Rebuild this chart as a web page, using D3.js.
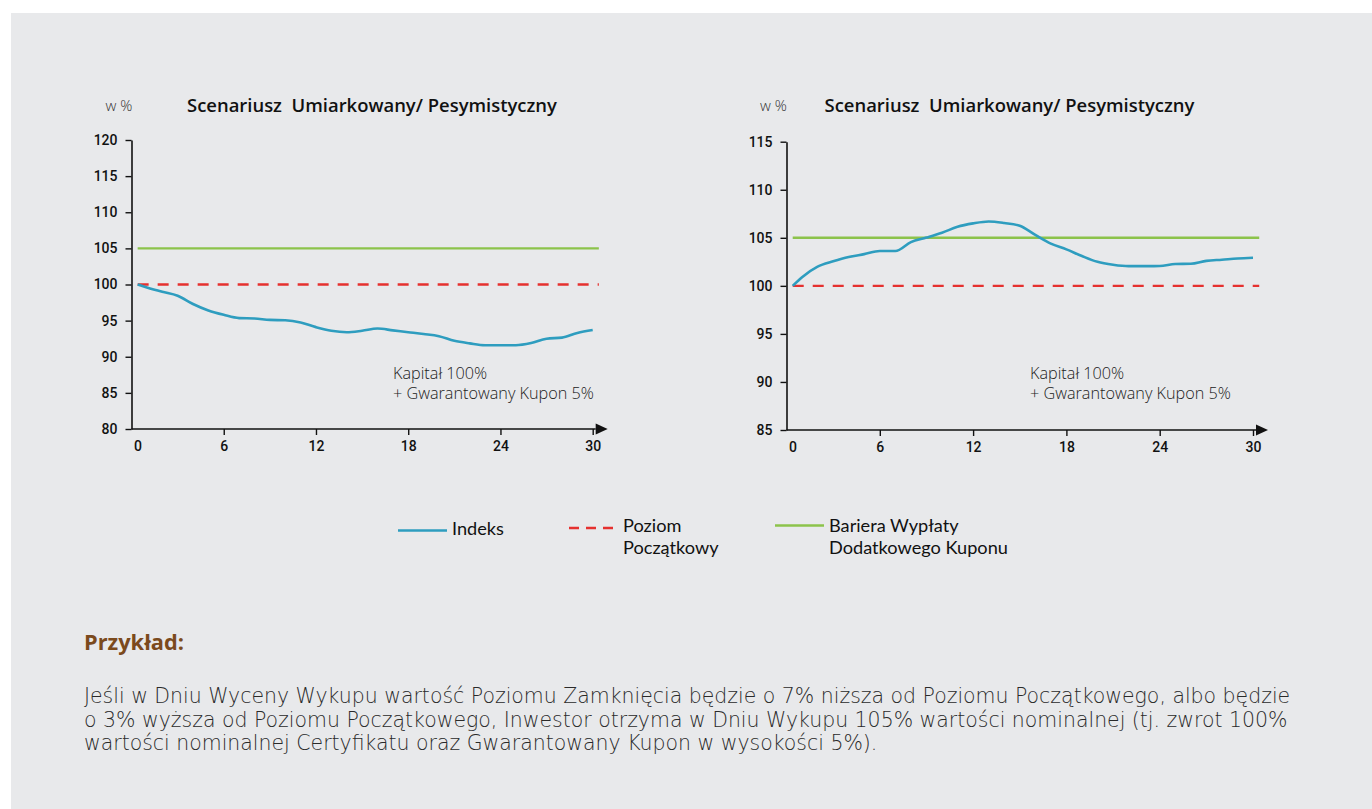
<!DOCTYPE html>
<html>
<head>
<meta charset="utf-8">
<script src="https://cdn.jsdelivr.net/npm/d3@7"></script>
<style>
  body { margin: 0; background: #fff; }
  svg { display: block; font-family: "Open Sans", sans-serif; }
</style>
</head>
<body>
<div id="chart"></div>
<script>
// months on the x axis (first point sits just right of the axis)
const months = [0.4, 1, 2, 3, 4, 5, 6, 7, 8, 9, 10, 11, 12, 13, 14, 15, 16, 17, 18, 19, 20, 21, 22, 23, 24, 25, 26, 27, 28, 29, 30];

// Indeks - lewy wykres (spadek)
const indeksLeft = [100, 99.6, 99.0, 98.45, 97.3, 96.4, 95.8, 95.35, 95.3, 95.1, 95.05, 94.75, 94.1, 93.6, 93.4, 93.6, 93.9, 93.65, 93.4, 93.15, 92.85, 92.2, 91.85, 91.6, 91.6, 91.6, 91.9, 92.5, 92.65, 93.3, 93.7];

// Indeks - prawy wykres (wzrost i powrót)
const indeksRight = [100, 100.9, 102.0, 102.55, 103.0, 103.3, 103.62, 103.62, 104.55, 105.02, 105.53, 106.15, 106.5, 106.7, 106.54, 106.25, 105.3, 104.4, 103.8, 103.1, 102.5, 102.2, 102.05, 102.05, 102.06, 102.27, 102.3, 102.6, 102.72, 102.85, 102.93];

const poziomPoczatkowy = 100;
const barieraWyplaty = 105;
const refSpan = [0.4, 30.4];

const xTicks = [0, 6, 12, 18, 24, 30];
const yTicksLeft = [80, 85, 90, 95, 100, 105, 110, 115, 120];
const yTicksRight = [85, 90, 95, 100, 105, 110, 115];

const titleText = "Scenariusz\u00a0 Umiarkowany/ Pesymistyczny";
const noteLines = ["Kapitał 100%", "+ Gwarantowany Kupon 5%"];

const legendItems = [
    { lines: ["Indeks"], color: "#2e9dbf", dash: null },
    { lines: ["Poziom", "Początkowy"], color: "#e5312f", dash: "10,7" },
    { lines: ["Bariera Wypłaty", "Dodatkowego Kuponu"], color: "#8cc34b", dash: null }
];

const exampleTitle = "Przykład:";
const exampleLines = [
    "Jeśli w Dniu Wyceny Wykupu wartość Poziomu Zamknięcia będzie o 7% niższa od Poziomu Początkowego, albo będzie",
    "o 3% wyższa od Poziomu Początkowego, Inwestor otrzyma w Dniu Wykupu 105% wartości nominalnej (tj. zwrot 100%",
    "wartości nominalnej Certyfikatu oraz Gwarantowany Kupon w wysokości 5%)."
];

const W = 1372, H = 809;
const blue = "#2e9dbf", red = "#e5312f", green = "#8cc34b", ink = "#111";
const numFont = "Roboto, 'Liberation Sans', sans-serif";

const svg = d3.select("#chart")
    .append("svg")
    .attr("width", W)
    .attr("height", H);

// szare tło
svg.append("rect")
    .attr("x", 11).attr("y", 13)
    .attr("width", W - 11).attr("height", H - 13)
    .attr("fill", "#e8e9eb");

// scale font so a text fits a target width
function fitWidth(sel, target) {
    const size = parseFloat(sel.attr("font-size"));
    const len = sel.node().getComputedTextLength();
    sel.attr("font-size", (size * target / len).toFixed(2));
}

function drawChart(cfg) {
    const g = svg.append("g");

    const x = d3.scaleLinear().domain([0, 30]).range([cfg.left, cfg.right]);
    const y = d3.scaleLinear().domain(cfg.yDomain).range([cfg.bottom, cfg.top]);

    // os Y
    const yAxis = g.append("g")
        .attr("transform", `translate(${cfg.left},0)`)
        .call(d3.axisLeft(y).tickValues(cfg.yTicks).tickSize(6).tickSizeOuter(0).tickPadding(8));
    yAxis.select(".domain").attr("stroke", ink).attr("stroke-width", 1.6);
    yAxis.selectAll(".tick line").attr("stroke", ink).attr("stroke-width", 1.4);
    yAxis.selectAll(".tick text")
        .attr("fill", ink)
        .attr("font-family", numFont)
        .attr("font-weight", 500)
        .attr("font-size", 14);

    // os X
    const xAxis = g.append("g")
        .attr("transform", `translate(0,${cfg.bottom})`)
        .call(d3.axisBottom(x).tickValues(xTicks).tickSize(6).tickSizeOuter(0).tickPadding(6));
    xAxis.select(".domain").remove();
    xAxis.selectAll(".tick line").attr("stroke", ink).attr("stroke-width", 1.4);
    xAxis.selectAll(".tick text")
        .attr("fill", ink)
        .attr("font-family", numFont)
        .attr("font-weight", 500)
        .attr("font-size", 14)
        .attr("dx", d => d === 0 ? 6 : 0);
    xAxis.selectAll(".tick").filter(d => d === 0).select("line").remove();

    const xEnd = x(30) + 3;
    g.append("line")
        .attr("x1", cfg.left).attr("x2", xEnd)
        .attr("y1", cfg.bottom).attr("y2", cfg.bottom)
        .attr("stroke", ink).attr("stroke-width", 1.6);
    g.append("path")
        .attr("d", `M${xEnd},${cfg.bottom - 5.5}L${xEnd + 12},${cfg.bottom}L${xEnd},${cfg.bottom + 5.5}Z`)
        .attr("fill", ink);

    // linie poziomow
    g.append("line")
        .attr("x1", x(refSpan[0])).attr("x2", x(refSpan[1]))
        .attr("y1", y(barieraWyplaty)).attr("y2", y(barieraWyplaty))
        .attr("stroke", green).attr("stroke-width", 2.4);
    g.append("line")
        .attr("x1", x(refSpan[0])).attr("x2", x(refSpan[1]))
        .attr("y1", y(poziomPoczatkowy)).attr("y2", y(poziomPoczatkowy))
        .attr("stroke", red).attr("stroke-width", 2.4)
        .attr("stroke-dasharray", "11,9");

    // indeks
    const line = d3.line()
        .x((d, i) => x(months[i]))
        .y(d => y(d))
        .curve(d3.curveMonotoneX);
    g.append("path")
        .datum(cfg.values)
        .attr("d", line)
        .attr("fill", "none")
        .attr("stroke", blue)
        .attr("stroke-width", 2.6);

    // jednostka i tytul
    g.append("text")
        .attr("x", cfg.unitX).attr("y", 110.5)
        .attr("text-anchor", "middle")
        .attr("font-size", 15).attr("font-weight", 300)
        .attr("fill", "#333")
        .text("w %");
    const t = g.append("text")
        .attr("x", cfg.titleX).attr("y", 112)
        .attr("font-size", 18).attr("font-weight", 600)
        .attr("fill", ink)
        .text(titleText);
    fitWidth(t, 370);

    // opis - two separate lines
    const noteSize = 15;
    const notes = noteLines.map((l, i) => g.append("text")
        .attr("x", cfg.noteX).attr("y", 378.5 + i * 20.5)
        .attr("font-size", noteSize).attr("font-weight", 300)
        .attr("fill", "#222")
        .text(l));
    const scale = 201 / notes[1].node().getComputedTextLength();
    notes.forEach(n => n.attr("font-size", (noteSize * scale).toFixed(2)));
}

drawChart({ left: 131.5, right: 592.7, top: 140, bottom: 429, yDomain: [80, 120], yTicks: yTicksLeft,
    values: indeksLeft, unitX: 119, titleX: 187, noteX: 393 });
drawChart({ left: 786.5, right: 1253, top: 141.7, bottom: 430, yDomain: [85, 115], yTicks: yTicksRight,
    values: indeksRight, unitX: 773.5, titleX: 824.5, noteX: 1030 });

// legenda
const legendX = [398, 569, 775];
const legendY = [530.5, 528, 525.5];
const legendFont = "Lato, 'Open Sans', sans-serif";

// size the legend font from the widest label
const probe = svg.append("text")
    .attr("font-family", legendFont).attr("font-size", 17)
    .text(legendItems[2].lines[1]);
const legendSize = 17 * 179 / probe.node().getComputedTextLength();
probe.remove();
const legendStep = legendSize * 1.2 + 0.5;

legendItems.forEach((item, i) => {
    const lg = svg.append("g");
    lg.append("line")
        .attr("x1", legendX[i]).attr("x2", legendX[i] + 49)
        .attr("y1", legendY[i]).attr("y2", legendY[i])
        .attr("stroke", item.color).attr("stroke-width", 2.4)
        .attr("stroke-dasharray", item.dash);
    item.lines.forEach((l, j) => {
        lg.append("text")
            .attr("x", legendX[i] + 54)
            .attr("y", (i === 0 ? 535 : 532) + j * legendStep)
            .attr("font-family", legendFont)
            .attr("font-size", legendSize.toFixed(2))
            .attr("fill", ink)
            .text(l);
    });
});

// przyklad
const exTitle = svg.append("text")
    .attr("x", 84).attr("y", 649.5)
    .attr("font-size", 20).attr("font-weight", 700)
    .attr("fill", "#7b4a1d")
    .text(exampleTitle);
fitWidth(exTitle, 100);

const paraFont = "'DejaVu Sans', 'Open Sans', sans-serif";
const paraLines = exampleLines.map((l, i) => svg.append("text")
    .attr("x", 84).attr("y", 703 + i * 23.5)
    .attr("font-family", paraFont)
    .attr("font-size", 17).attr("font-weight", 200)
    .attr("fill", "#2a2a2a")
    .text(l));
const paraScale = 1207 / paraLines[0].node().getComputedTextLength();
paraLines.forEach(p => p.attr("font-size", (17 * paraScale).toFixed(2)));
</script>
</body>
</html>
